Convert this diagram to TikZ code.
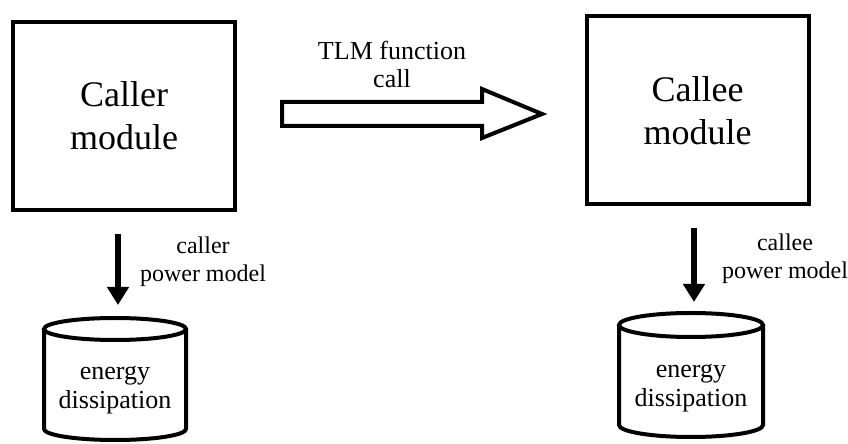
\documentclass[tikz,border=0pt]{standalone}
\usepackage{fontspec}
\setmainfont{Liberation Serif}
\usetikzlibrary{arrows.meta}

\begin{document}
\begin{tikzpicture}[x=1pt,y=1pt,
  module/.style={draw, line width=4pt, minimum width=222pt, minimum height=188pt,
    align=center, font=\fontsize{36}{43}\selectfont},
  tag/.style={align=center, inner sep=0pt, font=\fontsize{24}{28}\selectfont},
  storetext/.style={align=center, inner sep=0pt, font=\fontsize{26}{29}\selectfont},
  outline/.style={line width=4pt},
  flow/.style={line width=6pt, -{Triangle[length=18pt,width=21pt]}}]
\useasboundingbox (0,0) rectangle (848,444);

% the two modules
\node[module] (caller) at (124,328) {Caller\\module};
\node[module] (callee) at (697.5,333.5) {Callee\\module};

% hollow arrow: the function call
\draw[outline, line join=miter] (282,318) -- (482,318) -- (482,306) -- (542,330)
  -- (482,355) -- (482,342) -- (282,342) -- cycle;
\node[tag, font=\fontsize{26}{28}\selectfont, anchor=south] (tlm) at (392,356) {TLM function\\call};

% energy stores (cylinders drawn round the text)
\node[storetext] (storeL) at (115,54) {energy\\dissipation};
\node[storetext] (storeR) at (691,56) {energy\\dissipation};

\draw[outline] ([yshift=61pt]storeL.center) ellipse [x radius=71pt, y radius=11pt];
\draw[outline] ([shift={(-71pt,61pt)}]storeL.center) -- ++(0,-100)
  arc[start angle=180, end angle=360, x radius=71pt, y radius=11pt] -- ++(0,100);

\draw[outline] ([yshift=63pt]storeR.center) ellipse [x radius=72pt, y radius=12pt];
\draw[outline] ([shift={(-72pt,63pt)}]storeR.center) -- ++(0,-100)
  arc[start angle=180, end angle=360, x radius=72pt, y radius=12pt] -- ++(0,100);

% power models
\draw[flow] ([xshift=-6pt,yshift=-22pt]caller.south) -- ([xshift=3pt,yshift=85pt]storeL.center);
\draw[flow] ([xshift=-3.5pt,yshift=-22pt]callee.south) -- ([xshift=3pt,yshift=86pt]storeR.center);

\node[tag] (pmL) at (203,182.5) {caller\\power model};
\node[tag] (pmR) at (785,185) {callee\\power model};
\end{tikzpicture}
\end{document}
